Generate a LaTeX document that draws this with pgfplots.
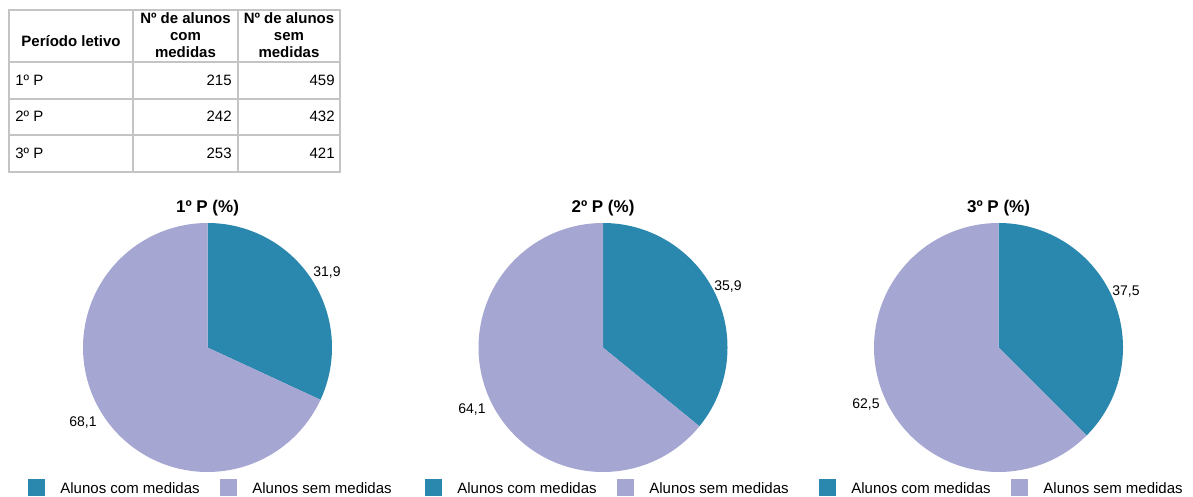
\documentclass[border=0pt]{standalone}
\usepackage{pgfplots}
\pgfplotsset{compat=1.18}
\usepackage{fontspec}
\setmainfont{Liberation Sans}
\definecolor{cteal}{RGB}{42,135,173}
\definecolor{clav}{RGB}{165,166,210}
\definecolor{cgrid}{RGB}{196,196,196}
\newcommand{\pie}[3]{% center x, center y, percent of first slice
  \addplot[fill=cteal, draw=none, domain=0:#3, samples=90]
    ({#1+124.5*cos(90-3.6*x)}, {#2+124.5*sin(90-3.6*x)}) -- (axis cs:#1,#2) -- cycle;
  \addplot[fill=clav, draw=none, domain=#3:100, samples=150]
    ({#1+124.5*cos(90-3.6*x)}, {#2+124.5*sin(90-3.6*x)}) -- (axis cs:#1,#2) -- cycle;
}
\newcommand{\leg}[1]{% x of first square
  \fill[cteal] (axis cs:#1,1) rectangle (axis cs:#1+17,18);
  \node[anchor=base west, inner sep=0, font=\fontsize{7.5}{9}\selectfont] at (axis cs:#1+32,3) {Alunos com medidas};
  \fill[clav] (axis cs:#1+192,1) rectangle (axis cs:#1+209,18);
  \node[anchor=base west, inner sep=0, font=\fontsize{7.5}{9}\selectfont] at (axis cs:#1+224,3) {Alunos sem medidas};
}
\begin{document}
\begin{tikzpicture}
\useasboundingbox (0,0) rectangle (596.5pt,248.5pt);
\clip (0,0) rectangle (596.5pt,248.5pt);
\begin{axis}[
  x=0.5pt, y=0.5pt,
  xmin=0, xmax=1193, ymin=0, ymax=497,
  hide axis, clip=false,
  anchor=origin, at={(0,0)},
]
% ---- pies ----
\pie{207.5}{149.5}{31.9}
\pie{603}{149.5}{35.9}
\pie{998.5}{149.5}{37.5}
% titles
\node[font=\fontsize{8.5}{10}\selectfont\bfseries, inner sep=0] at (axis cs:207.5,289) {1º P (\%)};
\node[font=\fontsize{8.5}{10}\selectfont\bfseries, inner sep=0] at (axis cs:603,289) {2º P (\%)};
\node[font=\fontsize{8.5}{10}\selectfont\bfseries, inner sep=0] at (axis cs:998.5,289) {3º P (\%)};
% slice labels
\begin{scope}[every node/.style={font=\fontsize{7}{8.4}\selectfont, inner sep=0}]
\node at (axis cs:327,224) {31,9};
\node at (axis cs:83,74) {68,1};
\node at (axis cs:728,210) {35,9};
\node at (axis cs:472,87) {64,1};
\node at (axis cs:1126,205) {37,5};
\node at (axis cs:866,92) {62,5};
\end{scope}
% legends
\leg{28}
\leg{425}
\leg{819}
% ---- table ----
\begin{scope}[cgrid, line width=1pt]
\draw (axis cs:9,487) rectangle (axis cs:340,325);
\draw (axis cs:133,487) -- (axis cs:133,325);
\draw (axis cs:238,487) -- (axis cs:238,325);
\draw (axis cs:9,435) -- (axis cs:340,435);
\draw (axis cs:9,398) -- (axis cs:340,398);
\draw (axis cs:9,362) -- (axis cs:340,362);
\end{scope}
\begin{scope}[every node/.style={font=\fontsize{7.5}{9}\selectfont, inner sep=0}]
\node[anchor=base, font=\fontsize{7.5}{9}\selectfont\bfseries] at (axis cs:71,450) {Período letivo};
\node[anchor=base, font=\fontsize{7.5}{9}\selectfont\bfseries] at (axis cs:185.5,473) {Nº de alunos};
\node[anchor=base, font=\fontsize{7.5}{9}\selectfont\bfseries] at (axis cs:185.5,456) {com};
\node[anchor=base, font=\fontsize{7.5}{9}\selectfont\bfseries] at (axis cs:185.5,439) {medidas};
\node[anchor=base, font=\fontsize{7.5}{9}\selectfont\bfseries] at (axis cs:289,473) {Nº de alunos};
\node[anchor=base, font=\fontsize{7.5}{9}\selectfont\bfseries] at (axis cs:289,456) {sem};
\node[anchor=base, font=\fontsize{7.5}{9}\selectfont\bfseries] at (axis cs:289,439) {medidas};
\node[anchor=base west] at (axis cs:15,411) {1º P};
\node[anchor=base west] at (axis cs:15,375) {2º P};
\node[anchor=base west] at (axis cs:15,338) {3º P};
\node[anchor=base east] at (axis cs:232,411) {215};
\node[anchor=base east] at (axis cs:232,375) {242};
\node[anchor=base east] at (axis cs:232,338) {253};
\node[anchor=base east] at (axis cs:335,411) {459};
\node[anchor=base east] at (axis cs:335,375) {432};
\node[anchor=base east] at (axis cs:335,338) {421};
\end{scope}
\end{axis}
\end{tikzpicture}
\end{document}
